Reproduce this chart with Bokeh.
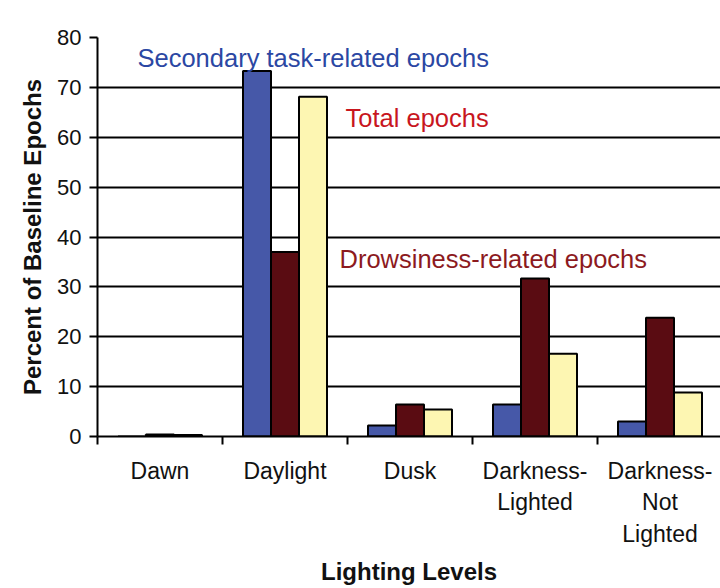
import numpy as np
from bokeh.plotting import figure
from bokeh.models import ColumnDataSource, FixedTicker, Range1d
from bokeh.transform import dodge
from bokeh.core.properties import value
from bokeh.embed import file_html
from bokeh.resources import INLINE

# ---- data ----
categories = ["Dawn", "Daylight", "Dusk", "Darkness-\nLighted", "Darkness-\nNot\nLighted"]
secondary_task = [0.0, 73.3, 2.2, 6.4, 3.0]
drowsiness = [0.4, 37.0, 6.4, 31.7, 23.8]
total = [0.3, 68.1, 5.4, 16.6, 8.8]
y_ticks = [0, 10, 20, 30, 40, 50, 60, 70, 80]
series_labels = ["Secondary task-related epochs", "Total epochs", "Drowsiness-related epochs"]

# ---- styling / layout ----
FONT = "Liberation Sans"
BLUE = "#4658a8"
MAROON = "#5a0c12"
YELLOW = "#fdf6b2"
bar_w = 0.224

centers = np.arange(len(categories)) + 0.5
src = ColumnDataSource(dict(x=centers, sec=secondary_task, drw=drowsiness, tot=total))

p = figure(width=720, height=588, x_range=Range1d(0, 4.984), y_range=Range1d(0, 80),
           output_backend="svg", toolbar_location=None,
           min_border_left=97, min_border_top=37, min_border_right=0, min_border_bottom=152)
p.outline_line_color = None
p.background_fill_color = "white"
p.border_fill_color = "white"

p.vbar(x=dodge("x", -bar_w, range=p.x_range), top="sec", width=bar_w, source=src,
       fill_color=BLUE, line_color="black", line_width=2)
p.vbar(x=dodge("x", 0, range=p.x_range), top="drw", width=bar_w, source=src,
       fill_color=MAROON, line_color="black", line_width=2)
p.vbar(x=dodge("x", bar_w, range=p.x_range), top="tot", width=bar_w, source=src,
       fill_color=YELLOW, line_color="black", line_width=2)

# annotations (series labels)
ann = ColumnDataSource(dict(
    x=[0.32, 1.984, 1.936],
    y=[75.8, 63.9, 35.6],
    text=series_labels,
    color=["#2b47a3", "#c8161e", "#8c1a1e"],
))
p.text(x="x", y="y", text="text", text_color="color", source=ann,
       text_font=value(FONT), text_font_size="25.5px", text_baseline="alphabetic", text_align="left")

# grid
p.xgrid.grid_line_color = None
p.ygrid.ticker = FixedTicker(ticks=y_ticks)
p.ygrid.grid_line_color = "black"
p.ygrid.grid_line_width = 2

# x axis
xa = p.xaxis[0]
xa.ticker = FixedTicker(ticks=list(centers), minor_ticks=list(range(len(categories))))
xa.major_label_overrides = {float(c): lab for c, lab in zip(centers, categories)}
xa.major_tick_line_color = None
xa.major_tick_out = 0
xa.major_tick_in = 0
xa.minor_tick_out = 8
xa.minor_tick_in = 0
xa.minor_tick_line_color = "black"
xa.minor_tick_line_width = 2
xa.axis_line_color = "black"
xa.axis_line_width = 2
xa.major_label_standoff = 13
xa.major_label_text_font = FONT
xa.major_label_text_font_size = "23px"
xa.major_label_text_color = "#111111"
xa.major_label_text_line_height = 1.22
xa.axis_label = "Lighting Levels"
xa.axis_label_text_font = FONT
xa.axis_label_text_font_size = "24px"
xa.axis_label_text_font_style = "bold"
xa.axis_label_text_color = "#111111"
xa.axis_label_standoff = 8

# y axis
ya = p.yaxis[0]
ya.ticker = FixedTicker(ticks=y_ticks)
ya.major_tick_out = 8
ya.major_tick_in = 0
ya.major_tick_line_width = 2
ya.major_tick_line_color = "black"
ya.minor_tick_line_color = None
ya.axis_line_color = "black"
ya.axis_line_width = 2
ya.major_label_standoff = 8
ya.major_label_text_font = FONT
ya.major_label_text_font_size = "22px"
ya.major_label_text_color = "#111111"
ya.axis_label = "Percent of Baseline Epochs"
ya.axis_label_text_font = FONT
ya.axis_label_text_font_size = "24px"
ya.axis_label_text_font_style = "bold"
ya.axis_label_text_color = "#111111"
ya.axis_label_standoff = 8

open("out.html", "w").write(file_html(p, INLINE))
